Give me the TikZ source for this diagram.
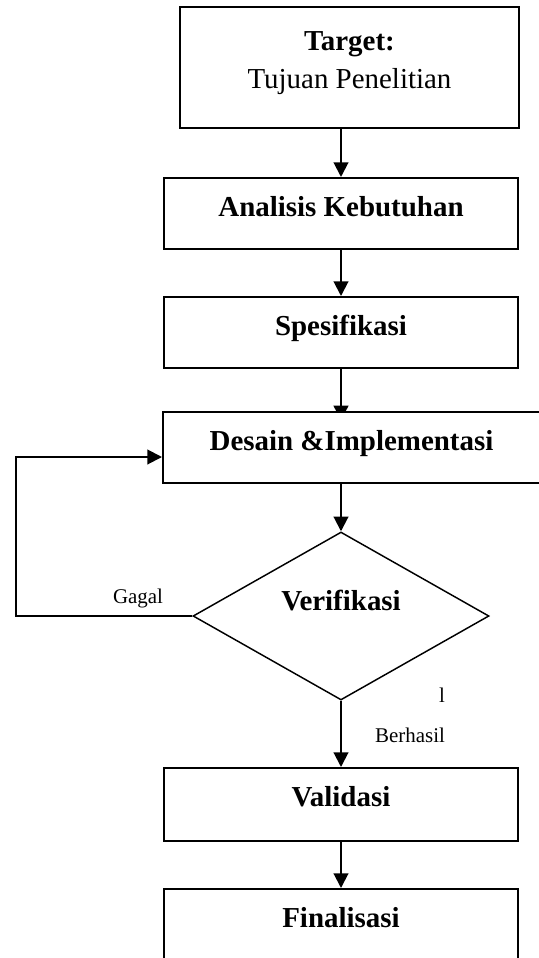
\documentclass[tikz,border=0pt]{standalone}
\usepackage{fontspec}
\setmainfont{Liberation Serif}
\usepackage{tikz}
\usetikzlibrary{calc}
\usetikzlibrary{shapes.geometric}
\usetikzlibrary{arrows.meta}
\usetikzlibrary{backgrounds}
\tikzset{>={Triangle[width=11pt,length=11pt]}}

\begin{document}
\begin{tikzpicture}[x=0.75pt, y=-0.75pt,
	kotak/.style={draw=black, fill=white, line width=1.5pt, inner sep=0pt,
		minimum width=265.5pt, minimum height=53.25pt,
		text height=28.5pt, text depth=24.75pt,
		font=\fontsize{21.7pt}{27.8pt}\selectfont\bfseries},
	panah/.style={->, line width=1.5pt, draw=black},
	ket/.style={inner sep=0pt, font=\fontsize{15.7pt}{18pt}\selectfont}]
	\useasboundingbox (0,0) rectangle (539,958);

	% Kotak
	\node[kotak, minimum width=254.25pt, minimum height=90.75pt,
		text height=60.75pt, text depth=30pt, align=center,
		font=\fontsize{21.7pt}{27.8pt}\selectfont]
		(target) at (349.5,67.5) {\textbf{Target:}\\Tujuan Penelitian};
	\node[kotak] (analisis) at (341,213.5) {Analisis Kebutuhan};
	\node[kotak] (spesifikasi) at (341,332.5) {Spesifikasi};
	\node[kotak, minimum width=282.75pt] (desain) at (351.5,447.5) {Desain \&Implementasi};
	\node[draw=black, fill=white, line width=1.1pt, shape=diamond, aspect=2,
		inner sep=0pt, minimum width=222pt, minimum height=126pt,
		text height=15pt, text depth=24pt,
		font=\fontsize{21.7pt}{27.8pt}\selectfont\bfseries]
		(verifikasi) at (341,616) {Verifikasi};
	\node[kotak, minimum height=54.75pt, text depth=26.25pt] (validasi) at (341,804.5) {Validasi};
	\node[kotak] (finalisasi) at (341,924.5) {Finalisasi};

	% Keterangan
	\node[ket] (gagal) at (138,598) {Gagal};
	\node[ket] (berhasil) at (410,735) {Berhasil};
	\node[ket] (satu) at (442,695) {l};

	% Panah
	\draw[panah] (target.south -| analisis.north) -- (analisis.north);
	\draw[panah] (analisis.south) -- (spesifikasi.north);
	\begin{scope}[on background layer]
	\draw[panah, shorten >=-7pt] (spesifikasi.south) -- (spesifikasi.south |- desain.north);
	\end{scope}
	\draw[panah] (desain.south -| verifikasi.north) -- (verifikasi.north);
	\draw[panah] (verifikasi.south) -- (validasi.north);
	\draw[panah] (validasi.south) -- (finalisasi.north);

	% Gagal
	\coordinate (balik) at (16,457);
	\draw[panah] (verifikasi.west) -| (balik) -- (balik -| desain.west);

\end{tikzpicture}
\end{document}
